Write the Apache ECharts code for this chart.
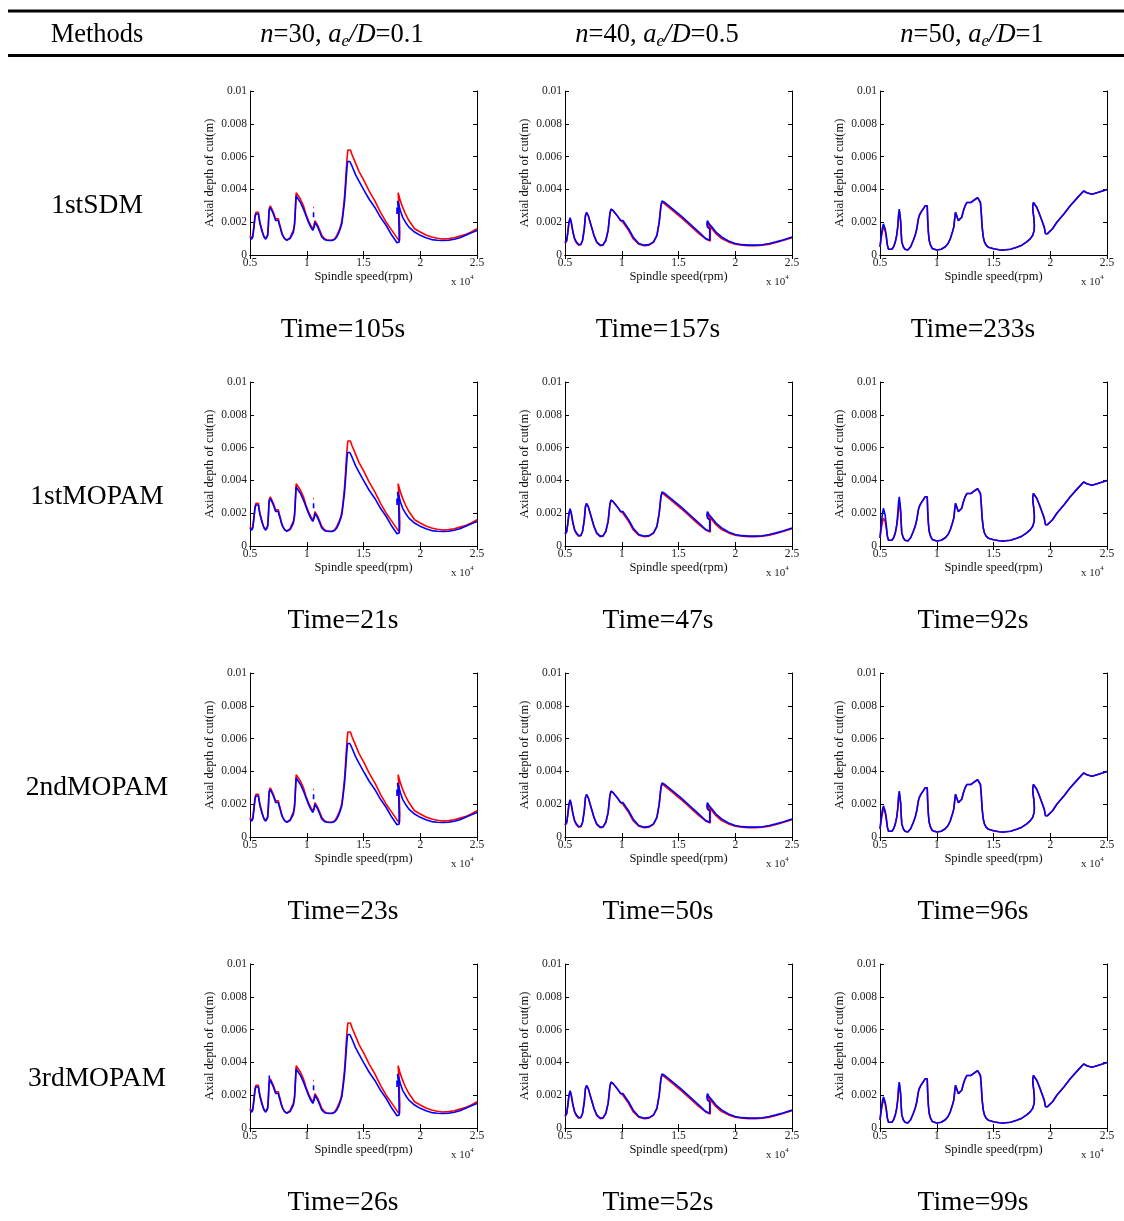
<!DOCTYPE html>
<html>
<head>
<meta charset="utf-8">
<script src="https://cdn.jsdelivr.net/npm/echarts@6/dist/echarts.min.js"></script>
<style>
  html, body { margin: 0; padding: 0; background: #fff; }
  #main { width: 1124px; height: 1221px; }
</style>
</head>
<body>
<div id="main"></div>
<script>
// table text
var methods = ['1stSDM', '1stMOPAM', '2ndMOPAM', '3rdMOPAM'];
var times = [
  ['Time=105s', 'Time=157s', 'Time=233s'],
  ['Time=21s', 'Time=47s', 'Time=92s'],
  ['Time=23s', 'Time=50s', 'Time=96s'],
  ['Time=26s', 'Time=52s', 'Time=99s']
];

// n=30, ae/D=0.1  (red = reference, blue = method)
var col1Red = [[5000,0.0012],[5150,0.001],[5250,0.0012],[5350,0.0018],[5440,0.0024],[5520,0.0026],[5590,0.0027],[5680,0.0027],[5740,0.0026],[5800,0.0023],[5880,0.002],[6030,0.0016],[6140,0.0013],[6240,0.0011],[6380,0.001],[6480,0.00105],[6560,0.0013],[6620,0.0019],[6680,0.0028],[6790,0.003],[6900,0.0029],[7060,0.0026],[7160,0.0024],[7260,0.0022],[7400,0.0022],[7500,0.0022],[7560,0.002],[7650,0.0018],[7760,0.0015],[7880,0.0012],[8050,0.001],[8240,0.00092],[8400,0.00095],[8530,0.00105],[8680,0.0013],[8820,0.0015],[8920,0.0019],[8970,0.0025],[9020,0.0032],[9070,0.0038],[9130,0.0039],[9220,0.0038],[9450,0.0034],[9710,0.003],[9930,0.0025],[10150,0.0021],[10350,0.0018],[10530,0.0016],[10600,0.0015],[10650,0.0018],[10720,0.0021],[10790,0.00218],[10850,0.0021],[10970,0.0018],[11150,0.0015],[11320,0.0012],[11550,0.001],[11760,0.00093],[12000,0.0009],[12210,0.0009],[12450,0.00098],[12650,0.0012],[12850,0.0015],[13000,0.0018],[13100,0.0021],[13200,0.0027],[13320,0.0035],[13400,0.0043],[13480,0.0052],[13550,0.0059],[13620,0.0064],[13720,0.0065],[13850,0.0064],[14000,0.0061],[14300,0.0056],[14600,0.0051],[15000,0.0046],[15500,0.0039],[16000,0.0033],[16500,0.0026],[17000,0.002],[17500,0.0015],[18000,0.001],[18180,0.00088],[18200,0.0014],[18120,0.0031],[18050,0.0038],[18120,0.0037],[18250,0.0033],[18450,0.0029],[18700,0.0025],[19000,0.0021],[19500,0.0016],[20000,0.0014],[20500,0.00122],[21000,0.0011],[21500,0.00102],[22000,0.00098],[22500,0.001],[23000,0.00105],[23500,0.00115],[24000,0.00125],[24500,0.0014],[25000,0.0016],[25000,'-'],[10560,0.0029],[10640,0.0029]];
var col1Blue = [[5000,0.0011],[5150,0.00096],[5250,0.0011],[5350,0.0017],[5440,0.0023],[5520,0.0025],[5590,0.0026],[5680,0.0026],[5740,0.0025],[5800,0.0022],[5880,0.0019],[6030,0.0015],[6140,0.0013],[6240,0.0011],[6380,0.00096],[6480,0.001],[6560,0.0012],[6620,0.0018],[6680,0.0027],[6790,0.0029],[6900,0.0028],[7060,0.0025],[7160,0.0023],[7260,0.0021],[7400,0.0021],[7500,0.0021],[7560,0.0019],[7650,0.0017],[7760,0.0014],[7880,0.0012],[8050,0.001],[8240,0.0009],[8400,0.00092],[8530,0.001],[8680,0.0012],[8820,0.0014],[8920,0.0018],[8970,0.0023],[9020,0.003],[9060,0.0036],[9120,0.0037],[9200,0.0036],[9450,0.0032],[9710,0.0028],[9930,0.0024],[10150,0.002],[10350,0.0017],[10530,0.0015],[10600,0.00145],[10650,0.0017],[10720,0.002],[10790,0.0021],[10850,0.002],[10970,0.0017],[11150,0.0014],[11320,0.0011],[11550,0.00095],[11760,0.0009],[12000,0.00088],[12210,0.00088],[12450,0.00095],[12650,0.0011],[12850,0.0014],[13000,0.0017],[13090,0.0019],[13200,0.0025],[13320,0.0032],[13400,0.0039],[13470,0.0046],[13540,0.0053],[13600,0.0057],[13680,0.0058],[13800,0.0057],[14000,0.0054],[14300,0.0049],[14600,0.0045],[15000,0.004],[15500,0.0034],[16000,0.0029],[16500,0.0023],[17000,0.0018],[17500,0.0012],[17950,0.00075],[18150,0.0008],[18100,0.0026],[18000,0.0033],[18100,0.0031],[18250,0.0027],[18450,0.0023],[18700,0.002],[19000,0.0017],[19500,0.0014],[20000,0.0012],[20500,0.00105],[21000,0.00094],[21500,0.0009],[22000,0.00088],[22500,0.0009],[23000,0.00096],[23500,0.00105],[24000,0.0012],[24500,0.00135],[25000,0.0015],[25000,'-'],[10600,0.0023],[10600,0.0026],[25000,'-'],[17950,0.0025],[17950,0.0029]];
// 3rdMOPAM, n=30: short extra blue spike on the second lobe
var col1Row4Spike = [[6700,0.0027],[6700,0.0032]];

// n=40, ae/D=0.5
var col2Red = [[5000,0.0007],[5050,0.00066],[5150,0.00085],[5250,0.0014],[5350,0.002],[5450,0.00222],[5550,0.002],[5700,0.0014],[5850,0.00095],[6000,0.00075],[6200,0.0006],[6400,0.00062],[6550,0.0009],[6700,0.0016],[6800,0.0024],[6900,0.00255],[7050,0.0024],[7300,0.0018],[7550,0.0012],[7800,0.00075],[8100,0.00057],[8350,0.0006],[8600,0.0009],[8800,0.0015],[8950,0.0025],[9050,0.0028],[9250,0.0027],[9600,0.0024],[9900,0.0021],[10100,0.002],[10250,0.0019],[10600,0.0015],[11000,0.001],[11500,0.00066],[12000,0.00057],[12400,0.0006],[12800,0.00078],[13100,0.0012],[13300,0.002],[13450,0.003],[13550,0.00325],[13800,0.0031],[14500,0.0027],[15200,0.0023],[16000,0.0018],[16800,0.0013],[17400,0.00098],[17800,0.00085],[17800,0.0016],[17600,0.0017],[17550,0.00195],[17700,0.0018],[17950,0.0016],[18300,0.0013],[18800,0.001],[19400,0.0008],[20000,0.00066],[20600,0.0006],[21200,0.00057],[21800,0.00057],[22400,0.0006],[23000,0.00066],[23600,0.00076],[24200,0.00088],[25000,0.00105]];
var col2Blue = [[5000,0.00075],[5050,0.0007],[5150,0.0009],[5250,0.0014],[5350,0.002],[5450,0.00227],[5550,0.002],[5700,0.0014],[5850,0.001],[6000,0.0008],[6200,0.00064],[6400,0.00065],[6550,0.0009],[6700,0.0016],[6800,0.0024],[6900,0.0026],[7050,0.0024],[7300,0.0018],[7550,0.0012],[7800,0.0008],[8100,0.0006],[8350,0.00062],[8600,0.0009],[8800,0.0015],[8950,0.0025],[9050,0.0028],[9250,0.0027],[9600,0.0024],[9900,0.0021],[10100,0.0021],[10200,0.0022],[10250,0.002],[10600,0.0016],[11000,0.0011],[11500,0.0007],[12000,0.0006],[12400,0.00063],[12800,0.0008],[13100,0.0012],[13300,0.002],[13450,0.003],[13550,0.0033],[13800,0.0032],[14500,0.0028],[15200,0.0024],[16000,0.0019],[16800,0.0014],[17400,0.001],[17750,0.0009],[17750,0.0016],[17550,0.0017],[17500,0.0019],[17550,0.0021],[17700,0.0019],[17950,0.0017],[18300,0.0014],[18800,0.0011],[19400,0.00085],[20000,0.0007],[20600,0.00063],[21200,0.0006],[21800,0.0006],[22400,0.00062],[23000,0.0007],[23600,0.0008],[24200,0.00092],[25000,0.0011]];

// n=50, ae/D=1
var col3Red = [[5000,0.0005],[5100,0.001],[5200,0.0014],[5300,0.0017],[5370,0.0017],[5450,0.0015],[5550,0.0011],[5650,0.0006],[5750,0.00035],[5900,0.0003],[6050,0.00035],[6200,0.0005],[6350,0.0008],[6470,0.0012],[6570,0.0017],[6640,0.0024],[6700,0.0027],[6760,0.0026],[6820,0.002],[6870,0.0013],[6920,0.0008],[7050,0.0005],[7200,0.00035],[7450,0.0003],[7700,0.0005],[7940,0.0009],[8100,0.0012],[8240,0.0016],[8380,0.0022],[8460,0.0024],[8600,0.0026],[8800,0.0028],[8970,0.003],[9100,0.0031],[9160,0.003],[9200,0.0022],[9260,0.0014],[9330,0.0009],[9450,0.0006],[9600,0.0004],[10000,0.0003],[10400,0.00035],[10750,0.0005],[11000,0.0007],[11200,0.001],[11380,0.0014],[11500,0.0017],[11580,0.0022],[11650,0.0026],[11720,0.0027],[11800,0.0025],[11900,0.0021],[12050,0.0021],[12200,0.0023],[12350,0.0027],[12500,0.003],[12650,0.0032],[12800,0.0032],[13000,0.0032],[13200,0.0033],[13400,0.0034],[13600,0.0035],[13760,0.0035],[13850,0.0032],[13930,0.0025],[14000,0.0017],[14100,0.0011],[14200,0.0008],[14350,0.0006],[14560,0.00047],[15000,0.00038],[15500,0.00032],[15900,0.0003],[16500,0.00035],[17050,0.00047],[17500,0.0006],[17930,0.0008],[18250,0.001],[18460,0.0012],[18580,0.0015],[18600,0.0018],[18550,0.0023],[18470,0.0027],[18460,0.003],[18520,0.0032],[18650,0.0031],[18820,0.0029],[19050,0.0025],[19260,0.0021],[19470,0.0017],[19580,0.0013],[19760,0.0013],[20200,0.0016],[20580,0.002],[21200,0.0025],[21760,0.003],[22400,0.0035],[22940,0.0039],[23230,0.0038],[23670,0.0037],[24120,0.0038],[24600,0.0039],[25000,0.004]];
var col3Blue = [[5000,0.0005],[5100,0.0011],[5200,0.0016],[5300,0.0019],[5370,0.0019],[5450,0.0016],[5550,0.0012],[5650,0.0006],[5750,0.00035],[5900,0.0003],[6050,0.00035],[6200,0.0005],[6350,0.0008],[6470,0.0012],[6570,0.0018],[6640,0.0025],[6700,0.0028],[6760,0.0027],[6820,0.0021],[6870,0.0013],[6920,0.0008],[7050,0.0005],[7200,0.00035],[7450,0.0003],[7700,0.0005],[7940,0.0009],[8100,0.0012],[8240,0.0016],[8380,0.0022],[8460,0.0024],[8600,0.0026],[8800,0.0028],[8970,0.003],[9100,0.0031],[9160,0.003],[9200,0.0022],[9260,0.0014],[9330,0.0009],[9450,0.0006],[9600,0.0004],[10000,0.0003],[10400,0.00035],[10750,0.0005],[11000,0.0007],[11200,0.001],[11380,0.0014],[11500,0.0017],[11580,0.0022],[11650,0.0026],[11720,0.0027],[11800,0.0025],[11900,0.0021],[12050,0.0021],[12200,0.0023],[12350,0.0027],[12500,0.003],[12650,0.0032],[12800,0.0032],[13000,0.0032],[13200,0.0033],[13400,0.0034],[13600,0.0035],[13760,0.0035],[13850,0.0032],[13930,0.0025],[14000,0.0017],[14100,0.0011],[14200,0.0008],[14350,0.0006],[14560,0.00047],[15000,0.00038],[15500,0.00032],[15900,0.0003],[16500,0.00035],[17050,0.00047],[17500,0.0006],[17930,0.0008],[18250,0.001],[18460,0.0012],[18580,0.0015],[18600,0.0018],[18550,0.0023],[18470,0.0027],[18460,0.003],[18520,0.0032],[18650,0.0031],[18820,0.0029],[19050,0.0025],[19260,0.0021],[19470,0.0017],[19580,0.0013],[19760,0.0013],[20200,0.0016],[20580,0.002],[21200,0.0025],[21760,0.003],[22400,0.0035],[22940,0.0039],[23230,0.0038],[23670,0.0037],[24120,0.0038],[24600,0.0039],[25000,0.004]];
// 1stMOPAM, n=50: first two lobes a little higher
var col3BlueMopam1 = [[5000,0.0005],[5100,0.0013],[5200,0.0019],[5300,0.0023],[5370,0.0023],[5450,0.0019],[5550,0.0013],[5650,0.0006],[5750,0.00035],[5900,0.0003],[6050,0.00035],[6200,0.0005],[6350,0.0008],[6470,0.0013],[6570,0.002],[6640,0.0027],[6700,0.003],[6760,0.0029],[6820,0.0022],[6870,0.0014],[6920,0.0008],[7050,0.0005],[7200,0.00035],[7450,0.0003],[7700,0.0005],[7940,0.0009],[8100,0.0012],[8240,0.0016],[8380,0.0022],[8460,0.0024],[8600,0.0026],[8800,0.0028],[8970,0.003],[9100,0.0031],[9160,0.003],[9200,0.0022],[9260,0.0014],[9330,0.0009],[9450,0.0006],[9600,0.0004],[10000,0.0003],[10400,0.00035],[10750,0.0005],[11000,0.0007],[11200,0.001],[11380,0.0014],[11500,0.0017],[11580,0.0022],[11650,0.0026],[11720,0.0027],[11800,0.0025],[11900,0.0021],[12050,0.0021],[12200,0.0023],[12350,0.0027],[12500,0.003],[12650,0.0032],[12800,0.0032],[13000,0.0032],[13200,0.0033],[13400,0.0034],[13600,0.0035],[13760,0.0035],[13850,0.0032],[13930,0.0025],[14000,0.0017],[14100,0.0011],[14200,0.0008],[14350,0.0006],[14560,0.00047],[15000,0.00038],[15500,0.00032],[15900,0.0003],[16500,0.00035],[17050,0.00047],[17500,0.0006],[17930,0.0008],[18250,0.001],[18460,0.0012],[18580,0.0015],[18600,0.0018],[18550,0.0023],[18470,0.0027],[18460,0.003],[18520,0.0032],[18650,0.0031],[18820,0.0029],[19050,0.0025],[19260,0.0021],[19470,0.0017],[19580,0.0013],[19760,0.0013],[20200,0.0016],[20580,0.002],[21200,0.0025],[21760,0.003],[22400,0.0035],[22940,0.0039],[23230,0.0038],[23670,0.0037],[24120,0.0038],[24600,0.0039],[25000,0.004]];

var redByCol = [col1Red, col2Red, col3Red];
var blueByCell = [
  [col1Blue, col2Blue, col3Blue],
  [col1Blue, col2Blue, col3BlueMopam1],
  [col1Blue, col2Blue, col3Blue],
  [col1Blue, col2Blue, col3Blue]
];

var gridLeft = [250, 565, 880];
var gridTop = [91, 382, 673, 964];
var gridW = 227, gridH = 164;
var serif = '"Liberation Serif", "Times New Roman", serif';

var grids = [], xAxes = [], yAxes = [], series = [], graphics = [];

function lineSeries(i, data, color, z) {
  return {
    type: 'line', xAxisIndex: 2 * i, yAxisIndex: 2 * i, data: data,
    showSymbol: false, symbol: 'none', connectNulls: false, animation: false,
    lineStyle: { color: color, width: 1.6 }, z: z
  };
}

for (var r = 0; r < 4; r++) {
  for (var c = 0; c < 3; c++) {
    var i = grids.length;
    grids.push({ left: gridLeft[c], top: gridTop[r], width: gridW, height: gridH });
    xAxes.push({
      gridIndex: i, type: 'value', min: 5000, max: 25000, interval: 5000,
      name: 'Spindle speed(rpm)', nameLocation: 'middle', nameGap: 14,
      nameTextStyle: { fontFamily: serif, fontSize: 12.5, color: '#111' },
      axisLine: { lineStyle: { color: '#000', width: 1 } },
      axisTick: { inside: true, length: 4, lineStyle: { color: '#000' } },
      axisLabel: { fontFamily: serif, fontSize: 11.5, color: '#222', margin: 2,
        formatter: function (v) { return String(v / 10000); } },
      splitLine: { show: false }
    });
    xAxes.push({
      gridIndex: i, type: 'value', position: 'top', min: 5000, max: 25000, interval: 5000,
      axisLine: { lineStyle: { color: '#000', width: 1 } },
      axisTick: { inside: true, length: 4, lineStyle: { color: '#000' } },
      axisLabel: { show: false }, splitLine: { show: false }
    });
    yAxes.push({
      gridIndex: i, type: 'value', min: 0, max: 0.01, interval: 0.002,
      name: 'Axial depth of cut(m)', nameLocation: 'middle', nameRotate: 90, nameGap: 34,
      nameTextStyle: { fontFamily: serif, fontSize: 12.5, color: '#111' },
      axisLine: { lineStyle: { color: '#000', width: 1 } },
      axisTick: { inside: true, length: 4, lineStyle: { color: '#000' } },
      axisLabel: { fontFamily: serif, fontSize: 11.5, color: '#222', margin: 3,
        formatter: function (v) { return String(+v.toFixed(3)); } },
      splitLine: { show: false }
    });
    yAxes.push({
      gridIndex: i, type: 'value', position: 'right', min: 0, max: 0.01, interval: 0.002,
      axisLine: { lineStyle: { color: '#000', width: 1 } },
      axisTick: { inside: true, length: 4, lineStyle: { color: '#000' } },
      axisLabel: { show: false }, splitLine: { show: false }
    });
    series.push(lineSeries(i, redByCol[c], '#ff0000', 2));
    series.push(lineSeries(i, blueByCell[r][c], '#0000ff', 3));
    if (r === 3 && c === 0) series.push(lineSeries(i, col1Row4Spike, '#0000ff', 3));
    // "x 10^4" exponent label
    graphics.push({
      type: 'text', left: gridLeft[c] + gridW - 26, top: gridTop[r] + gridH + 19,
      style: { text: '{b|x 10}{s|4}', rich: {
        b: { fontFamily: serif, fontSize: 11, fill: '#222', lineHeight: 14, verticalAlign: 'bottom' },
        s: { fontFamily: serif, fontSize: 7, fill: '#222', lineHeight: 14, verticalAlign: 'top' }
      } }
    });
    // Time label
    graphics.push({
      type: 'text', x: gridLeft[c] + 93, y: gridTop[r] + 239,
      style: { text: times[r][c], fontFamily: serif, fontSize: 27.5, fill: '#000',
        textAlign: 'center', textVerticalAlign: 'middle' }
    });
  }
  graphics.push({
    type: 'text', x: 97, y: gridTop[r] + 115,
    style: { text: methods[r], fontFamily: serif, fontSize: 27.5, fill: '#000',
      textAlign: 'center', textVerticalAlign: 'middle' }
  });
}

// table rules
graphics.push({ type: 'line', shape: { x1: 8, y1: 11, x2: 1124, y2: 11 }, style: { stroke: '#000', lineWidth: 3 } });
graphics.push({ type: 'line', shape: { x1: 8, y1: 55.5, x2: 1124, y2: 55.5 }, style: { stroke: '#000', lineWidth: 3 } });

// header
var headRich = {
  n: { fontFamily: serif, fontSize: 26.5, fill: '#000', lineHeight: 30, verticalAlign: 'middle' },
  i: { fontFamily: serif, fontSize: 26.5, fontStyle: 'italic', fill: '#000', lineHeight: 30, verticalAlign: 'middle' },
  e: { fontFamily: serif, fontSize: 17, fontStyle: 'italic', fill: '#000', lineHeight: 30, verticalAlign: 'bottom' }
};
var headers = [
  { x: 97, text: '{n|Methods}' },
  { x: 342, text: '{i|n}{n|=30, }{i|a}{e|e}{i|/D}{n|=0.1}' },
  { x: 657, text: '{i|n}{n|=40, }{i|a}{e|e}{i|/D}{n|=0.5}' },
  { x: 972, text: '{i|n}{n|=50, }{i|a}{e|e}{i|/D}{n|=1}' }
];
headers.forEach(function (h) {
  graphics.push({
    type: 'text', x: h.x, y: 35,
    style: { text: h.text, rich: headRich, textAlign: 'center', textVerticalAlign: 'middle' }
  });
});

var chart = echarts.init(document.getElementById('main'));
chart.setOption({
  animation: false,
  backgroundColor: '#fff',
  grid: grids,
  xAxis: xAxes,
  yAxis: yAxes,
  series: series,
  graphic: graphics
});
</script>
</body>
</html>
